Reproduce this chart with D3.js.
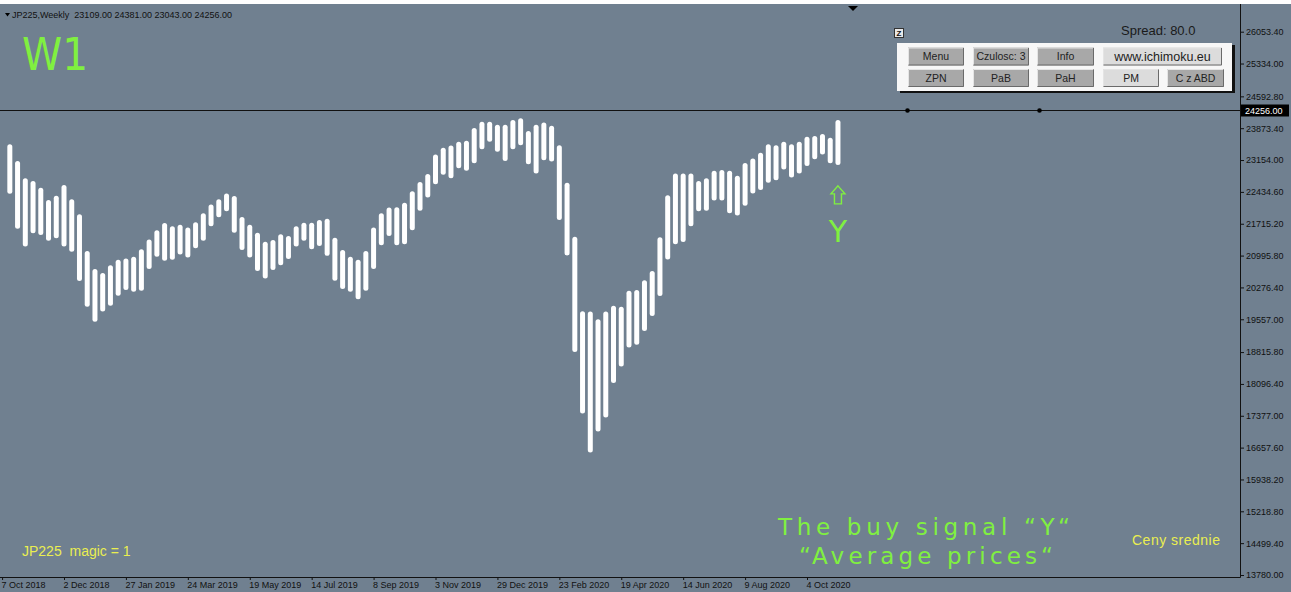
<!DOCTYPE html>
<html>
<head>
<meta charset="utf-8">
<script src="https://cdn.jsdelivr.net/npm/d3@7"></script>
<style>
  body { margin: 0; background: #708090; overflow: hidden; }
  svg { display: block; }
</style>
</head>
<body>
<div class="svg-wrap"></div>
<script>
// weekly "average price" bars, first bar week of 14 Oct 2018
let firstWeek = "2018-10-14";

let barHigh = [23510, 23130, 22740, 22680, 22530, 22250, 22350, 22590, 22270, 21930,
  21100, 20690, 20600, 20780, 20900, 20930, 20970, 21140, 21360, 21570,
  21730, 21660, 21690, 21630, 21750, 21950, 22150, 22270, 22400, 22340,
  21870, 21690, 21510, 21310, 21350, 21480, 21440, 21660, 21740, 21740,
  21800, 21830, 21400, 21120, 20970, 20900, 21100, 21630, 21950, 22080,
  22090, 22190, 22450, 22660, 22840, 23280, 23430, 23480, 23570, 23590,
  23880, 24020, 24020, 23950, 23950, 24060, 24100, 23810, 23950, 24000,
  23930, 23490, 22640, 21420, 19740, 19730, 19560, 19730, 19860, 19840,
  20200, 20220, 20440, 20650, 21410, 22360, 22850, 22850, 22850, 22680,
  22740, 22910, 22930, 22910, 22800, 23090, 23190, 23320, 23510, 23490,
  23570, 23510, 23570, 23680, 23700, 23740, 23660, 24060];

let barLow = [22390, 21600, 21200, 21500, 21460, 21330, 21390, 21200, 21080, 20420,
  19840, 19500, 19730, 19860, 20090, 20220, 20180, 20200, 20690, 20970,
  20880, 20900, 21020, 20950, 21160, 21330, 21660, 21860, 22000, 21510,
  21120, 20950, 20650, 20480, 20670, 20780, 20920, 21200, 21330, 21140,
  21210, 20990, 20430, 20240, 20180, 20010, 20200, 20690, 21230, 21440,
  21230, 21250, 21570, 22010, 22310, 22610, 22820, 22740, 22970, 22910,
  23080, 23400, 23570, 23340, 23130, 23400, 23490, 23060, 22850, 23150,
  23120, 21800, 21000, 18820, 17430, 16550, 17020, 17340, 18120, 18490,
  18920, 18980, 19290, 19630, 20080, 20910, 21250, 21300, 21660, 22000,
  22010, 22240, 22240, 21950, 21900, 22120, 22400, 22480, 22640, 22700,
  22940, 22760, 22850, 23020, 23170, 23280, 23080, 23040];

let xTickLabels = ["7 Oct 2018", "2 Dec 2018", "27 Jan 2019", "24 Mar 2019", "19 May 2019",
  "14 Jul 2019", "8 Sep 2019", "3 Nov 2019", "29 Dec 2019", "23 Feb 2020",
  "19 Apr 2020", "14 Jun 2020", "9 Aug 2020", "4 Oct 2020"];

let yTicks = [13780.00, 14499.40, 15218.80, 15938.20, 16657.60, 17377.00, 18096.40,
  18815.80, 19557.00, 20276.40, 20995.80, 21715.20, 22434.60, 23154.00,
  23873.40, 24592.80, 25334.00, 26053.40];

let symbol = "JP225,Weekly";
let ohlc = [23109.00, 24381.00, 23043.00, 24256.00];
let bidPrice = 24256.00;
let signalPrice = 22570;
let buttonRows = [
  ["Menu", "Czulosc: 3", "Info", "www.ichimoku.eu"],
  ["ZPN", "PaB", "PaH", "PM", "C z ABD"]
];

let green = "#80f040",
  yellow = "#eaee50",
  bg = "#708090";

var width = 1291,
  height = 592,
  plotRight = 1240,
  axisY = 577;

let svg = d3.select(".svg-wrap")
  .append("svg")
  .attr("width", width)
  .attr("height", height)
  .style("background-color", bg)
  .style("font-family", "'Liberation Sans', Arial, sans-serif");

let parseDay = d3.utcParse("%Y-%m-%d");
let parseTick = d3.utcParse("%d %b %Y");
let start = parseDay(firstWeek);
let bars = barHigh.map((h, i) => ({
  date: d3.utcWeek.offset(start, i),
  high: h,
  low: barLow[i]
}));
let tickDates = xTickLabels.map(t => parseTick(t));

var xScale = d3.scaleUtc()
  .domain([tickDates[1], tickDates[tickDates.length - 1]])
  .range([64, 807]);

var yScale = d3.scaleLinear()
  .domain([13780, 26053.4])
  .range([575, 31.7]);

createFrame();
createAxes();
createBars();
createBidLine();
createTexts();
createPanel();

function createFrame(){
  svg.append("rect")
    .attr("x", 0).attr("y", 0)
    .attr("width", width).attr("height", 4)
    .style("fill", "#fff");
  // chart shift marker
  svg.append("path")
    .attr("d", "M848,6 L858,6 L853,11 Z")
    .style("fill", "#000");
}

function createAxes(){
  let xAxis = d3.axisBottom(xScale)
    .tickValues(tickDates)
    .tickSize(3)
    .tickPadding(2)
    .tickFormat(d3.utcFormat("%-d %b %Y"));

  let gx = svg.append("g")
    .attr("id", "x-axis")
    .attr("transform", `translate(0,${axisY})`)
    .call(xAxis);
  gx.select(".domain").remove();
  gx.selectAll("line").style("stroke", "#111");
  gx.selectAll("text")
    .attr("x", -1)
    .style("text-anchor", "start")
    .style("font-size", "9px")
    .style("font-family", "'Liberation Sans', Arial, sans-serif")
    .style("fill", "#111");

  let yAxis = d3.axisRight(yScale)
    .tickValues(yTicks)
    .tickSize(4)
    .tickPadding(2)
    .tickFormat(d3.format(".2f"));

  let gy = svg.append("g")
    .attr("id", "y-axis")
    .attr("transform", `translate(${plotRight},0)`)
    .call(yAxis);
  gy.select(".domain").remove();
  gy.selectAll("line").style("stroke", "#111");
  gy.selectAll("text")
    .style("font-size", "9px")
    .style("font-family", "'Liberation Sans', Arial, sans-serif")
    .style("fill", "#111");

  svg.append("line")
    .attr("x1", 0).attr("x2", plotRight + 0.5)
    .attr("y1", axisY + 0.5).attr("y2", axisY + 0.5)
    .style("stroke", "#111");
  svg.append("line")
    .attr("x1", plotRight + 0.5).attr("x2", plotRight + 0.5)
    .attr("y1", 4).attr("y2", axisY + 0.5)
    .style("stroke", "#111");
}

function createBars(){
  svg.append("g")
    .selectAll(".bar")
    .data(bars)
    .enter()
    .append("rect")
    .attr("class", "bar")
    .attr("x", d => xScale(d.date) - 2.5)
    .attr("y", d => yScale(d.high))
    .attr("width", 5)
    .attr("height", d => yScale(d.low) - yScale(d.high))
    .attr("rx", 2.5)
    .style("fill", "#fff");
}

function createBidLine(){
  let yb = Math.round(yScale(bidPrice)) - 0.5;
  svg.append("line")
    .attr("x1", 0).attr("x2", plotRight)
    .attr("y1", yb).attr("y2", yb)
    .style("stroke", "#111");
  svg.selectAll(".bid-dot")
    .data([907.5, 1039.5])
    .enter()
    .append("circle")
    .attr("cx", d => d)
    .attr("cy", yb)
    .attr("r", 2.3)
    .style("fill", "#000");
  svg.append("rect")
    .attr("x", plotRight + 1).attr("y", yb - 6)
    .attr("width", 48).attr("height", 12)
    .style("fill", "#000");
  svg.append("text")
    .attr("x", plotRight + 5).attr("y", yb + 3.5)
    .style("font-size", "9px")
    .style("fill", "#fff")
    .text(d3.format(".2f")(bidPrice));
}

function createTexts(){
  svg.append("path")
    .attr("d", "M5,13 L10,13 L7.5,16.5 Z")
    .style("fill", "#000");
  svg.append("text")
    .attr("x", 12).attr("y", 18)
    .style("font-size", "9px")
    .style("fill", "#111")
    .attr("xml:space", "preserve")
    .text(symbol + "  " + ohlc.map(d3.format(".2f")).join(" "));

  svg.append("text")
    .attr("x", 22).attr("y", 70)
    .attr("textLength", 66)
    .attr("lengthAdjust", "spacingAndGlyphs")
    .style("font-family", "'DejaVu Sans', sans-serif")
    .style("font-size", "44px")
    .style("fill", green)
    .text("W1");

  // buy signal arrow under the last bar
  let last = bars[bars.length - 1];
  let ax = xScale(last.date),
    ay = yScale(signalPrice);
  svg.append("path")
    .attr("d", `M${ax},${ay} l7,8 h-3.5 v10 h-7 v-10 h-3.5 Z`)
    .style("fill", "none")
    .style("stroke", green)
    .style("stroke-width", 1.4);
  svg.append("text")
    .attr("x", ax).attr("y", ay + 56)
    .style("text-anchor", "middle")
    .style("font-family", "'DejaVu Sans', sans-serif")
    .style("font-size", "30px")
    .style("fill", green)
    .text("Y");

  svg.append("text")
    .attr("x", 778).attr("y", 535)
    .attr("textLength", 292)
    .attr("lengthAdjust", "spacing")
    .style("font-family", "'DejaVu Sans', sans-serif")
    .style("font-size", "23px")
    .style("fill", green)
    .text("The buy signal \u201cY\u201c");
  svg.append("text")
    .attr("x", 799).attr("y", 564)
    .attr("textLength", 254)
    .attr("lengthAdjust", "spacing")
    .style("font-family", "'DejaVu Sans', sans-serif")
    .style("font-size", "23px")
    .style("fill", green)
    .text("\u201cAverage prices\u201c");

  svg.append("text")
    .attr("x", 22).attr("y", 556)
    .attr("xml:space", "preserve")
    .style("font-size", "14px")
    .style("fill", yellow)
    .text("JP225  magic = 1");
  svg.append("text")
    .attr("x", 1132).attr("y", 545)
    .attr("textLength", 88)
    .style("font-size", "14px")
    .style("fill", yellow)
    .text("Ceny srednie");

  svg.append("text")
    .attr("x", 1121).attr("y", 35)
    .style("font-size", "13px")
    .style("fill", "#1a1a1a")
    .text("Spread: 80.0");
}

function createPanel(){
  // small Z toggle
  svg.append("rect")
    .attr("x", 894.5).attr("y", 28.5)
    .attr("width", 9).attr("height", 9)
    .style("fill", "#e8e8e8")
    .style("stroke", "#333");
  svg.append("text")
    .attr("x", 899).attr("y", 36)
    .style("text-anchor", "middle")
    .style("font-size", "8px")
    .style("font-weight", "bold")
    .style("fill", "#111")
    .text("Z");

  svg.append("rect")
    .attr("x", 900).attr("y", 45)
    .attr("width", 335).attr("height", 48)
    .style("fill", "#111");
  svg.append("rect")
    .attr("x", 897).attr("y", 43)
    .attr("width", 335).attr("height", 48)
    .style("fill", "#f7f7f7");

  let cols = [[908, 56], [973, 56], [1037, 57], [1103, 119]];
  let cols2 = [[908, 56], [973, 56], [1037, 57], [1103, 56], [1167, 57]];
  let light = ["www.ichimoku.eu", "PM"];

  buttonRows.forEach((row, r) => {
    let spec = r === 0 ? cols : cols2;
    let top = r === 0 ? 47.5 : 69;
    let g = svg.append("g")
      .selectAll(".btn" + r)
      .data(row)
      .enter()
      .append("g")
      .attr("transform", (d, i) => `translate(${spec[i][0]},${top})`);

    g.append("rect")
      .attr("width", (d, i) => spec[i][1])
      .attr("height", 18)
      .style("fill", d => light.includes(d) ? "#dcdcdc" : "#a8a8a8");
    g.append("path")
      .attr("d", (d, i) => `M0.5,17.5 V0.5 H${spec[i][1] - 0.5}`)
      .style("fill", "none")
      .style("stroke", "#e4e4e4");
    g.append("path")
      .attr("d", (d, i) => `M0.5,17.5 H${spec[i][1] - 0.5} V0.5`)
      .style("fill", "none")
      .style("stroke", "#6a6a6a");
    g.append("text")
      .attr("x", (d, i) => spec[i][1] / 2)
      .attr("y", d => d === "www.ichimoku.eu" ? 13.5 : 12.5)
      .style("text-anchor", "middle")
      .style("font-size", d => d === "www.ichimoku.eu" ? "12.5px" : "10.5px")
      .style("fill", "#222")
      .text(d => d);
  });
}
</script>
</body>
</html>
